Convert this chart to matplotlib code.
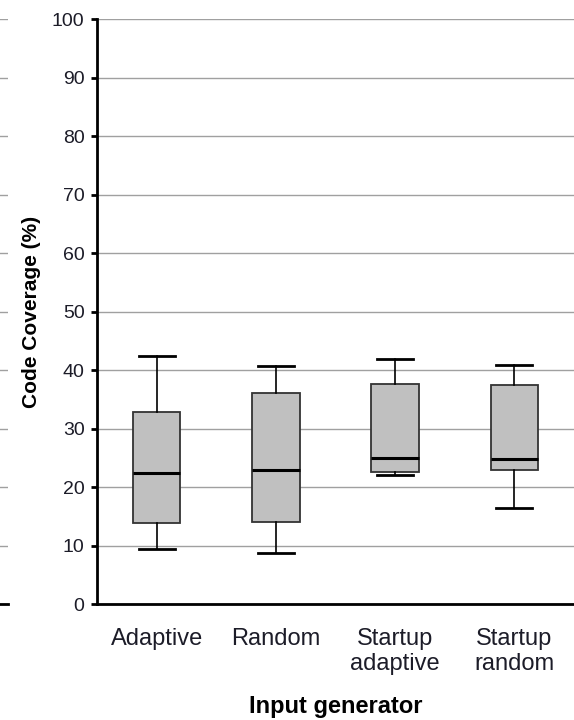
import matplotlib
matplotlib.use("Agg")
import matplotlib.pyplot as plt

plt.rcParams['font.family'] = ['Liberation Sans', 'DejaVu Sans']

categories = ["Adaptive", "Random", "Startup\nadaptive", "Startup\nrandom"]
whislo = [9.4, 8.7, 22.1, 16.4]
q1 = [13.8, 14.0, 22.6, 22.9]
med = [22.4, 22.9, 25.0, 24.8]
q3 = [32.8, 36.1, 37.6, 37.4]
whishi = [42.4, 40.7, 41.9, 40.9]
yticks = list(range(0, 101, 10))

stats = []
for i, name in enumerate(categories):
    stats.append(dict(label=name, whislo=whislo[i], q1=q1[i], med=med[i],
                      q3=q3[i], whishi=whishi[i], fliers=[]))

fig = plt.figure(figsize=(5.74, 7.2), dpi=100)

# sliver of the neighbouring chart at the left edge
ax0 = fig.add_axes([-0.5, 0.161, 0.514, 0.8125])
ax0.set_ylim(0, 100)
ax0.set_xlim(0, 1)
ax0.set_yticks(yticks)
ax0.yaxis.grid(True, color='#a0a0a0', linewidth=1)
ax0.set_xticks([])
ax0.set_yticklabels([])
ax0.tick_params(length=0)
for s in ['top', 'right', 'left']:
    ax0.spines[s].set_visible(False)
ax0.spines['bottom'].set_linewidth(2)

ax = fig.add_axes([0.169, 0.161, 0.831, 0.8125])
ax.bxp(stats, positions=range(len(categories)), widths=0.4, capwidths=0.3,
       showfliers=False, patch_artist=True,
       boxprops=dict(facecolor='#c0c0c0', edgecolor='#333333', linewidth=1.3),
       medianprops=dict(color='black', linewidth=2.2),
       whiskerprops=dict(color='black', linewidth=1.2),
       capprops=dict(color='black', linewidth=2))
ax.set_xlim(-0.5, len(categories) - 0.5)
ax.set_ylim(0, 100)
ax.set_yticks(yticks)
ax.yaxis.grid(True, color='#a0a0a0', linewidth=1)
ax.set_axisbelow(True)
ax.set_xticks(range(len(categories)))
ax.set_xticklabels(categories, fontsize=17, color='#1c1c28', linespacing=1.2)
ax.tick_params(axis='x', length=0, pad=17)
ax.tick_params(axis='y', length=4, width=2, labelsize=14, labelcolor='#1c1c28', pad=5)
for s in ['top', 'right']:
    ax.spines[s].set_visible(False)
ax.spines['left'].set_linewidth(2)
ax.spines['bottom'].set_linewidth(2)
ax.set_ylabel("Code Coverage (%)", fontsize=15, fontweight='bold', labelpad=8)
ax.set_xlabel("Input generator", fontsize=17, fontweight='bold', labelpad=14)

fig.savefig("out.png", dpi=100)
